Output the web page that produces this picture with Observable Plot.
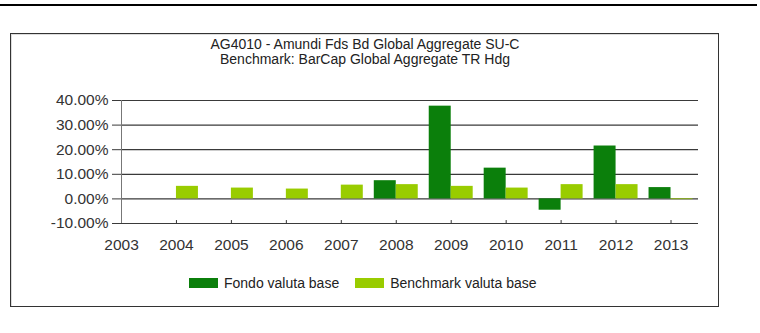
<!DOCTYPE html>
<html>
<head>
<meta charset="utf-8">
<script src="https://cdn.jsdelivr.net/npm/d3@7"></script>
<script src="https://cdn.jsdelivr.net/npm/@observablehq/plot@0.6"></script>
<style>
  html, body { margin: 0; padding: 0; background: #fff; }
  #wrap { position: relative; width: 760px; height: 333px; overflow: hidden; font-family: "Liberation Sans", Arial, sans-serif; }
  #topline { position: absolute; left: 0; top: 4px; width: 757px; height: 2px; background: #000; }
  #frame { position: absolute; left: 10px; top: 33px; width: 707px; height: 272px; border: 1px solid #333; box-shadow: inset 1px 1px 0 #ddd; }
  #title { position: absolute; left: 11px; width: 708px; top: 37px; text-align: center; font-size: 14px; line-height: 15px; color: #222; }
  #legend { position: absolute; top: 275px; left: 189px; font-size: 14px; color: #222; display: flex; align-items: center; }
  .sw { display: inline-block; width: 29px; height: 10px; margin-right: 6px; }
  .item { display: flex; align-items: center; margin-right: 16px; }
  #chart { position: absolute; left: 0; top: 0; }
</style>
</head>
<body>
<div id="wrap">
  <div id="topline"></div>
  <div id="frame"></div>
  <div id="chart"></div>
  <div id="title"></div>
  <div id="legend"></div>
</div>
<script>
const titleLines = ["AG4010 - Amundi Fds Bd Global Aggregate SU-C", "Benchmark: BarCap Global Aggregate TR Hdg"];
const years = [2003, 2004, 2005, 2006, 2007, 2008, 2009, 2010, 2011, 2012, 2013];
const fondo = [null, null, null, null, null, 7.4, 37.7, 12.5, -4.6, 21.5, 4.6];
const benchmark = [null, 5.1, 4.4, 4.0, 5.6, 5.8, 5.1, 4.4, 5.8, 5.8, -0.3];
const seriesNames = ["Fondo valuta base", "Benchmark valuta base"];
const seriesColors = ["#0b7f0b", "#99cc00"];
const yTicks = [-10, 0, 10, 20, 30, 40];

const rows = [];
years.forEach((y, i) => {
  if (fondo[i] != null) rows.push({year: y, value: fondo[i], series: seriesNames[0], x1: y - 0.4, x2: y});
  if (benchmark[i] != null) rows.push({year: y, value: benchmark[i], series: seriesNames[1], x1: y, x2: y + 0.4});
});

const chart = Plot.plot({
  width: 760,
  height: 333,
  marginLeft: 121,
  marginRight: 62,
  marginTop: 100,
  marginBottom: 110,
  style: {fontFamily: "Liberation Sans, Arial, sans-serif", background: "transparent", overflow: "visible"},
  x: {type: "linear", domain: [2003, 2013.5], axis: null},
  y: {domain: [-10, 40], axis: null},
  color: {domain: seriesNames, range: seriesColors},
  marks: [
    Plot.gridY(yTicks, {stroke: "#3a3a3a", strokeOpacity: 1, strokeWidth: 1.2}),
    Plot.ruleX([2003], {y1: -10, y2: 40, stroke: "#777", strokeWidth: 1}),
    Plot.rectY(rows, {x1: "x1", x2: "x2", y1: 0, y2: "value", fill: "series", inset: 0}),
    Plot.ruleX(years.slice(1), {x: d => d, y1: -10, y2: -8.8, stroke: "#333"}),
    Plot.axisY(yTicks, {label: null, tickSize: 9, tickPadding: 4, tickFormat: d => d.toFixed(2) + "%", fontSize: 15.5, stroke: "#3a3a3a", fill: "#333"}),
    Plot.axisX(years, {label: null, tickSize: 0, tickPadding: 15, tickFormat: d => String(d), fontSize: 15.5, fill: "#333"})
  ]
});
document.getElementById("chart").appendChild(chart);

document.getElementById("title").innerHTML = titleLines.map(t => `<div>${t}</div>`).join("");
document.getElementById("legend").innerHTML = seriesNames.map((n, i) =>
  `<div class="item"><span class="sw" style="background:${seriesColors[i]}"></span>${n}</div>`).join("");
</script>
</body>
</html>
